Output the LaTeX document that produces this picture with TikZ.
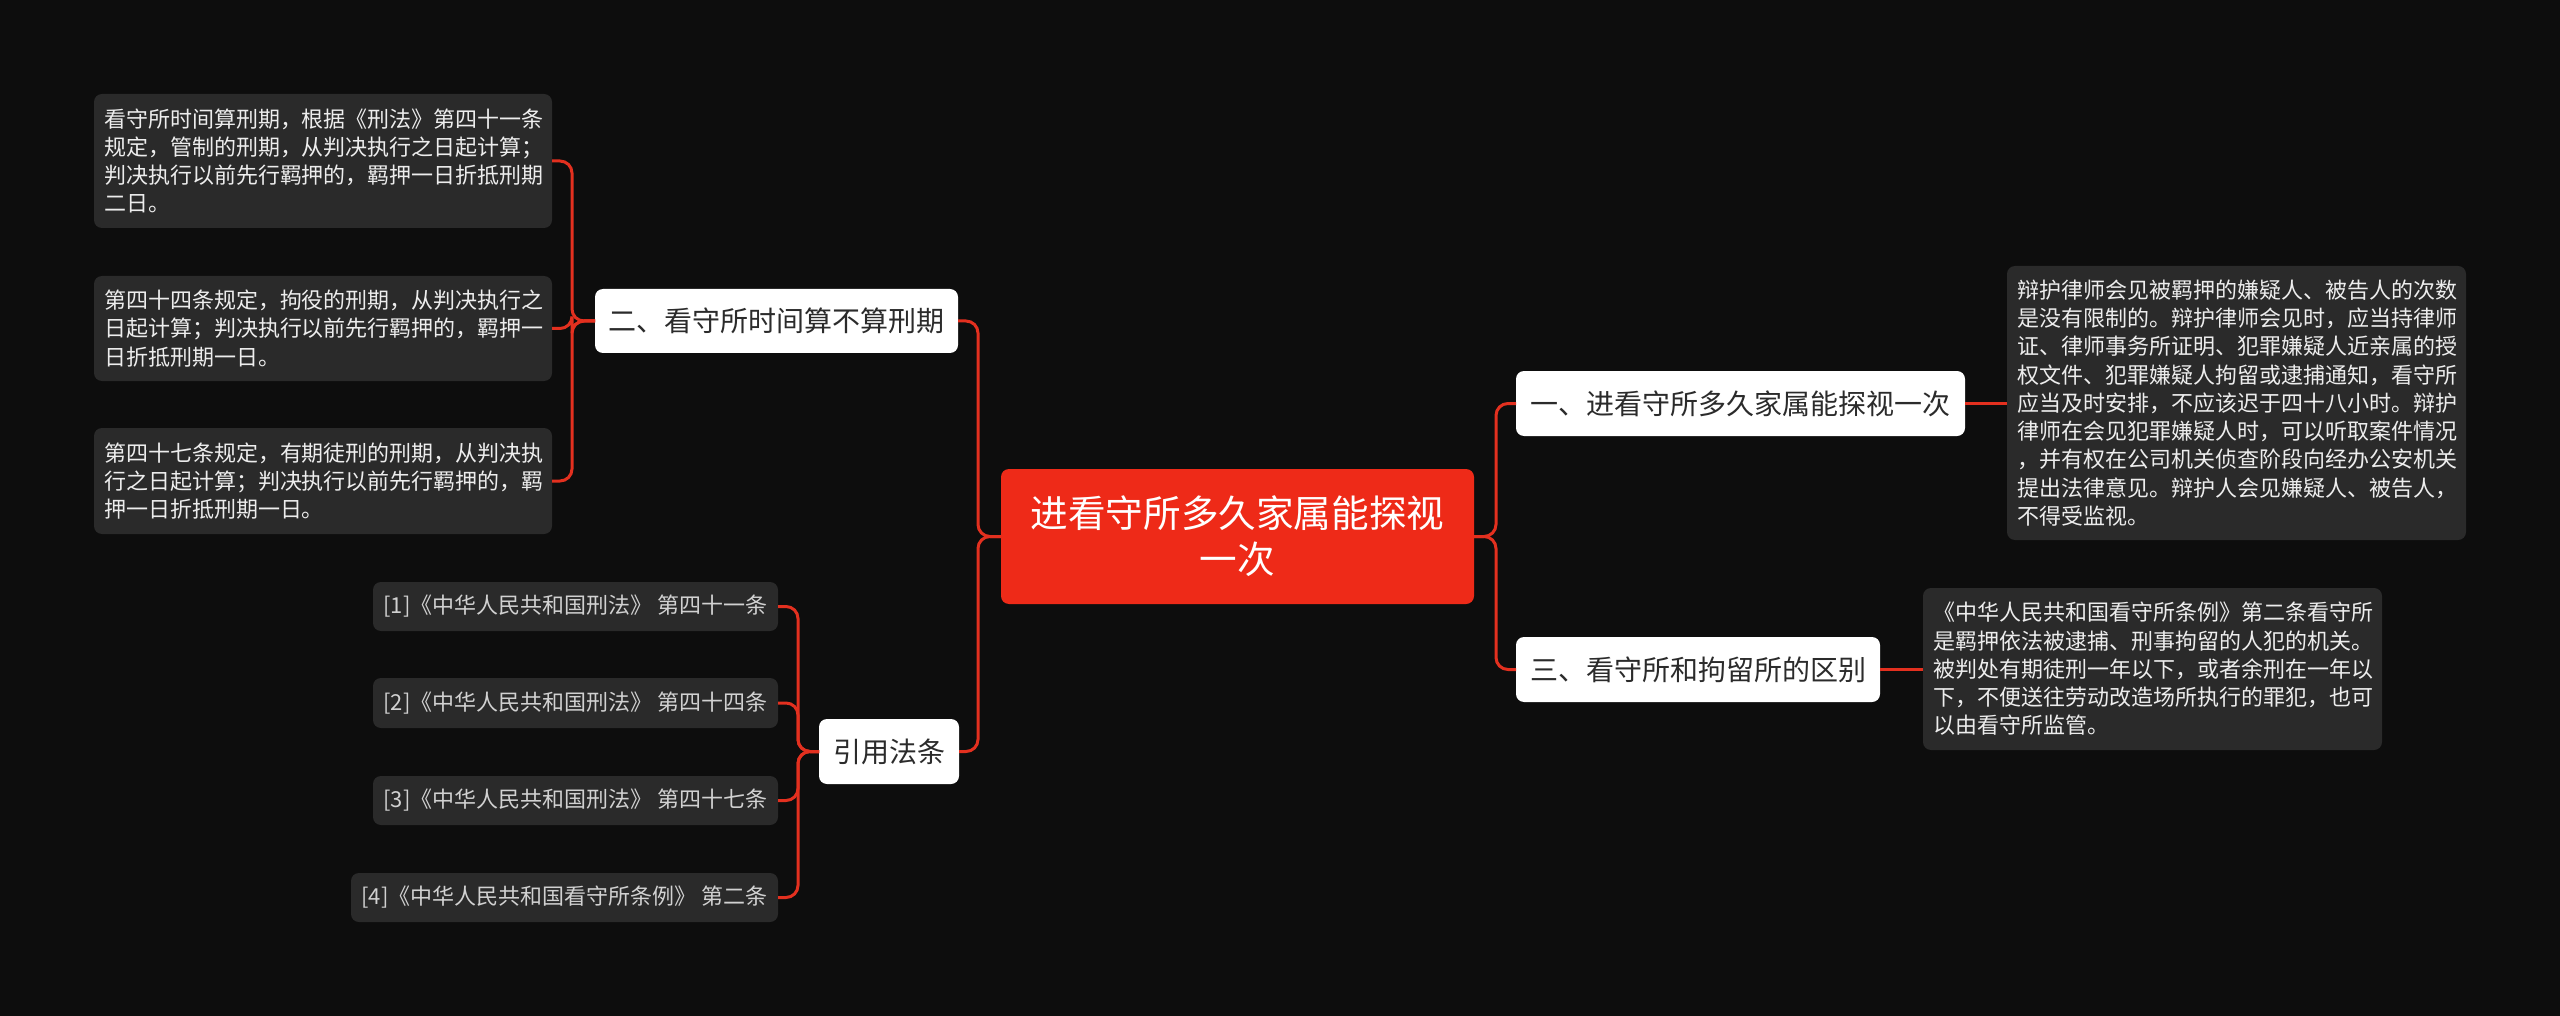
\documentclass[tikz,border=0pt]{standalone}
\usepackage{fontspec}
\setmainfont{Noto Sans CJK SC}
\definecolor{bg}{HTML}{0D0D0D}
\definecolor{leaf}{HTML}{2A2A2A}
\definecolor{mainred}{HTML}{EE2A18}
\definecolor{linered}{HTML}{E3301F}
\definecolor{darktext}{HTML}{2B2B2B}
\definecolor{leaftext}{HTML}{EDEDED}
\begin{document}
\begin{tikzpicture}[x=0.5pt,y=-0.5pt,
  every node/.style={inner sep=0pt, outer sep=0pt},
  rootbox/.style={fill=mainred, rounded corners=4pt, text=white, align=center,
    font=\fontsize{18.8pt}{23pt}\selectfont},
  topicbox/.style={fill=white, rounded corners=4pt, text=darktext, align=center,
    font=\fontsize{14pt}{17pt}\selectfont},
  leafbox/.style={fill=leaf, rounded corners=4pt, text=leaftext, align=left,
    font=\fontsize{11pt}{14.15pt}\selectfont},
  refbox/.style={fill=leaf, rounded corners=4pt, text=leaftext!88!black, align=center,
    font=\fontsize{11pt}{14pt}\selectfont},
  link/.style={draw=linered, line width=1.5pt, rounded corners=6pt}]
\fill[bg] (0,0) rectangle (2560,1016);
\useasboundingbox (0,0) rectangle (2560,1016);

% root
\node[rootbox, minimum width=236.5pt, minimum height=67.5pt] (root) at (1237.5,536.5) {进看守所多久家属能探视\\一次};

% level 1
\node[topicbox, minimum width=224.5pt, minimum height=32.5pt] (t1) at (1740.5,403.5) {一、进看守所多久家属能探视一次};
\node[topicbox, minimum width=182pt, minimum height=32.5pt] (t3) at (1698,669.5) {三、看守所和拘留所的区别};
\node[topicbox, minimum width=181.5pt, minimum height=32pt] (t2) at (776.5,321) {二、看守所时间算不算刑期};
\node[topicbox, minimum width=70pt, minimum height=32.5pt] (tr) at (889,751.5) {引用法条};

% left leaves
\node[leafbox, minimum width=229pt, minimum height=67pt, text width=219pt] (l1) at (323,161) {看守所时间算刑期，根据《刑法》第四十一条\\规定，管制的刑期，从判决执行之日起计算；\\判决执行以前先行羁押的，羁押一日折抵刑期\\二日。};
\node[leafbox, minimum width=229pt, minimum height=52.5pt, text width=219pt] (l2) at (323,328.5) {第四十四条规定，拘役的刑期，从判决执行之\\日起计算；判决执行以前先行羁押的，羁押一\\日折抵刑期一日。};
\node[leafbox, minimum width=229pt, minimum height=53pt, text width=219pt] (l3) at (323,481) {第四十七条规定，有期徒刑的刑期，从判决执\\行之日起计算；判决执行以前先行羁押的，羁\\押一日折抵刑期一日。};

% right leaves
\node[leafbox, minimum width=229.5pt, minimum height=137pt, text width=219.5pt] (r1) at (2236.5,403) {辩护律师会见被羁押的嫌疑人、被告人的次数\\是没有限制的。辩护律师会见时，应当持律师\\证、律师事务所证明、犯罪嫌疑人近亲属的授\\权文件、犯罪嫌疑人拘留或逮捕通知，看守所\\应当及时安排，不应该迟于四十八小时。辩护\\律师在会见犯罪嫌疑人时，可以听取案件情况\\，并有权在公司机关侦查阶段向经办公安机关\\提出法律意见。辩护人会见嫌疑人、被告人，\\不得受监视。};
\node[leafbox, minimum width=229.5pt, minimum height=81pt, text width=219.5pt] (r2) at (2152.5,669) {《中华人民共和国看守所条例》第二条看守所\\是羁押依法被逮捕、刑事拘留的人犯的机关。\\被判处有期徒刑一年以下，或者余刑在一年以\\下，不便送往劳动改造场所执行的罪犯，也可\\以由看守所监管。};

% references
\node[refbox, minimum width=202.5pt, minimum height=24.5pt] (f1) at (575.5,606.5) {[1]《中华人民共和国刑法》 第四十一条};
\node[refbox, minimum width=202.5pt, minimum height=25pt] (f2) at (575.5,703) {[2]《中华人民共和国刑法》 第四十四条};
\node[refbox, minimum width=202.5pt, minimum height=24.5pt] (f3) at (575.5,800.5) {[3]《中华人民共和国刑法》 第四十七条};
\node[refbox, minimum width=213.5pt, minimum height=24.5pt] (f4) at (564.5,897.5) {[4]《中华人民共和国看守所条例》 第二条};

% connectors: root
\draw[link] (root.east) -- ++(22,0) |- (t1.west);
\draw[link] (root.east) -- ++(22,0) |- (t3.west);
\draw[link] (root.west) -- ++(-23,0) |- (t2.east);
\draw[link] (root.west) -- ++(-23,0) |- (tr.east);

% level-2 connectors
\draw[link] (t1.east) -- (r1.west |- t1.east);
\draw[link] (t3.east) -- (r2.west |- t3.east);
\draw[link] (t2.west) -- ++(-23,0) |- (l1.east);
\draw[link] (t2.west) -- ++(-23,0) |- (l2.east);
\draw[link] (t2.west) -- ++(-23,0) |- (l3.east);
\draw[link] (tr.west) -- ++(-21,0) |- (f1.east);
\draw[link] (tr.west) -- ++(-21,0) |- (f2.east);
\draw[link] (tr.west) -- ++(-21,0) |- (f3.east);
\draw[link] (tr.west) -- ++(-21,0) |- (f4.east);
\end{tikzpicture}
\end{document}
